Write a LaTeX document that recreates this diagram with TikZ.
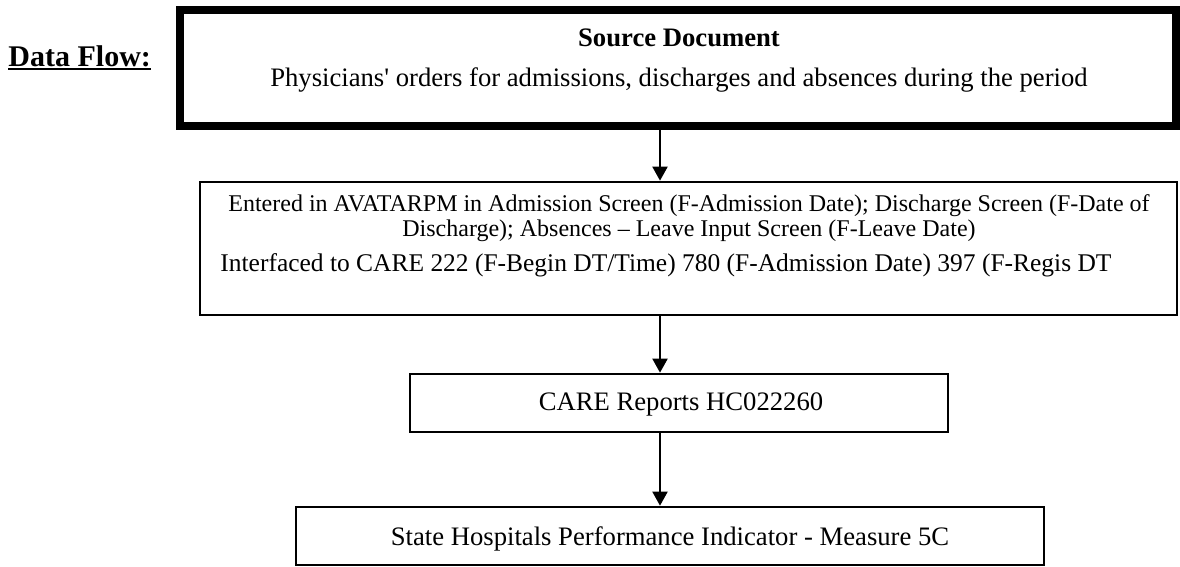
\documentclass[tikz,border=0pt]{standalone}
\usepackage{fontspec}
\setmainfont{Liberation Serif}
\usetikzlibrary{arrows.meta}
\tikzset{
  thinbox/.style={draw, line width=1.2pt, rectangle, inner sep=0pt},
  thickbox/.style={draw, line width=3.8pt, rectangle, inner sep=0pt},
  txt/.style={inner sep=0pt, anchor=base},
  arr/.style={line width=0.9pt, -{Triangle[width=6.75pt,length=6.3pt]}},
}
\begin{document}
\begin{tikzpicture}[x=0.45pt,y=-0.45pt]
\useasboundingbox (0,0) rectangle (1180,566);
% boxes
\node[thickbox, minimum width={996*0.45pt}, minimum height={116*0.45pt}] (src) at (678,68) {};
\node[thinbox, minimum width={977*0.45pt}, minimum height={133*0.45pt}] (entry) at (688.5,248.5) {};
\node[thinbox, minimum width={538*0.45pt}, minimum height={58*0.45pt}] (care) at (679,403) {};
\node[thinbox, minimum width={748*0.45pt}, minimum height={58*0.45pt}] (state) at (670,536) {};
% label
\node[txt, anchor=base west, font=\fontsize{13.5}{16}\selectfont\bfseries] (df) at (8,66) {Data Flow:};
\draw[line width=0.9pt] ([yshift=-1.4pt]df.base west) -- ([yshift=-1.4pt]df.base east);
% texts
\node[txt, font=\fontsize{12}{14}\selectfont\bfseries] (srct) at (679,46) {Source Document};
\node[txt, font=\fontsize{12}{14}\selectfont] (srcb) at (679,86) {Physicians\textquotesingle{} orders for admissions, discharges and absences during the period};
\node[txt, font=\fontsize{10.8}{13}\selectfont] (e1) at (689,211) {Entered in AVATARPM in Admission Screen (F-Admission Date); Discharge Screen (F-Date of};
\node[txt, font=\fontsize{10.8}{13}\selectfont] (e2) at (689,236) {Discharge); Absences – Leave Input Screen (F-Leave Date)};
\node[txt, anchor=base west, font=\fontsize{11.46}{13}\selectfont] (e3) at (220,271) {Interfaced to CARE 222 (F-Begin DT/Time) 780 (F-Admission Date) 397 (F-Regis DT};
\node[txt, font=\fontsize{12}{14}\selectfont] (caret) at (681,410) {CARE Reports HC022260};
\node[txt, font=\fontsize{12}{14}\selectfont] (statet) at (670,545) {State Hospitals Performance Indicator - Measure 5C};
% arrows
\coordinate (ax) at (660,0);
\draw[arr] (src.south -| ax) -- (entry.north -| ax);
\draw[arr] (entry.south -| ax) -- (care.north -| ax);
\draw[arr] (care.south -| ax) -- (state.north -| ax);
\end{tikzpicture}
\end{document}
